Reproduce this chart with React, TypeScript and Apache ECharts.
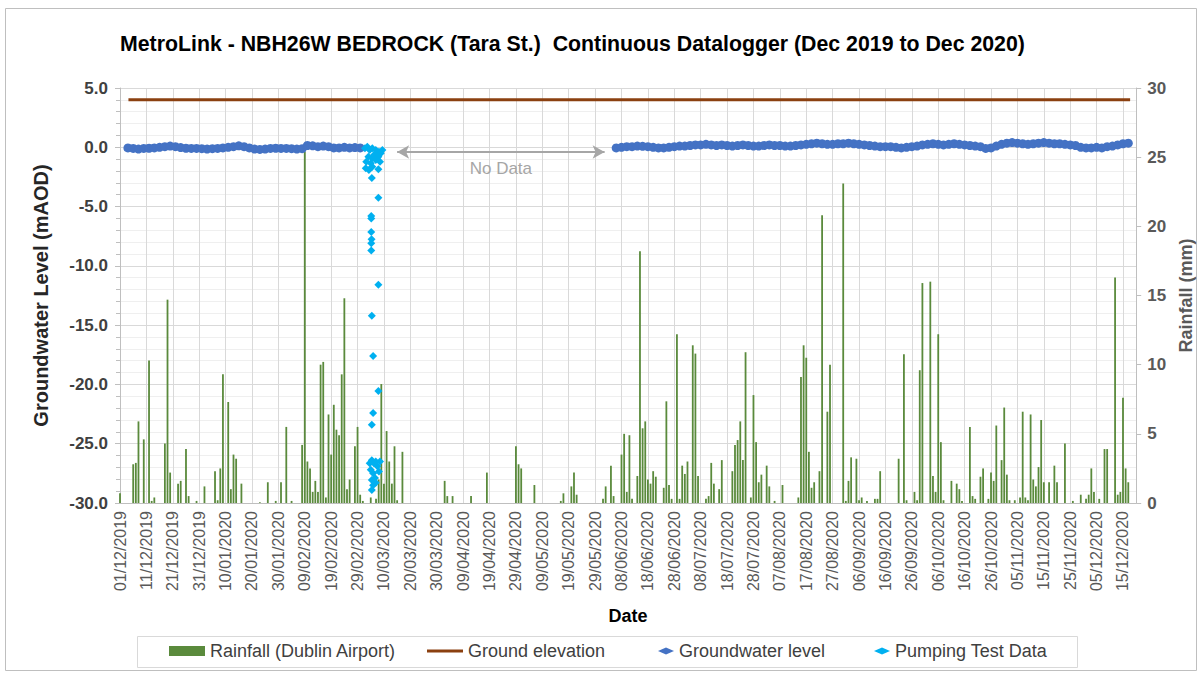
import React, { useEffect, useRef } from 'react';
import * as echarts from 'echarts';

// Day 0 = 01/12/2019; x values are day offsets from this date
const START_UTC = Date.UTC(2019, 11, 1);
const X_MIN = 0;
const X_MAX = 385;
const X_INTERVAL = 10;

// Rainfall (Dublin Airport), mm: [dayOffset, mm]
const rainfall: [number, number][] = [
  [0, 0.7], [5, 2.8], [6, 2.9], [7, 5.9], [9, 4.6], [11, 10.3], [12, 0.15], [13, 0.4], [17, 4.3], [18, 14.7],
  [19, 2.2], [22, 1.4], [23, 1.6], [25, 3.9], [26, 0.5], [29, 0.15], [32, 1.2], [36, 2.3], [37, 0.2], [38, 2.5],
  [39, 9.3], [41, 7.3], [42, 1.0], [43, 3.5], [44, 3.2], [46, 1.4], [53, 0.05], [56, 1.5], [59, 0.15], [61, 1.5],
  [63, 5.5], [65, 0.15], [69, 4.2], [70, 25.4], [71, 3.0], [72, 2.5], [73, 0.8], [74, 1.6], [75, 0.8], [76, 10.0],
  [77, 10.2], [78, 0.4], [79, 6.4], [80, 3.5], [81, 7.1], [82, 5.3], [83, 4.9], [84, 9.3], [85, 14.8], [86, 1.0],
  [87, 1.7], [89, 4.1], [90, 5.5], [91, 0.6], [92, 0.15],
  [95, 0.4], [97, 0.3], [98, 1.7], [99, 8.6], [100, 1.4], [101, 5.2], [102, 3.0], [103, 1.4], [104, 4.1], [105, 0.2],
  [107, 3.7], [123, 1.6], [124, 0.5], [126, 0.5], [133, 0.5], [139, 2.2], [150, 4.1], [151, 2.8], [152, 2.5], [157, 1.3],
  [167, 0.15], [168, 0.7], [171, 1.2], [172, 2.2], [173, 0.6], [183, 0.3], [184, 1.2], [186, 2.7], [187, 0.5],
  [190, 3.5], [191, 5.0], [192, 0.8], [193, 4.9], [194, 0.3], [196, 1.95], [197, 18.2], [198, 5.4], [199, 5.9], [200, 1.7],
  [201, 1.4], [202, 2.3], [203, 1.9], [206, 1.1], [207, 7.35], [208, 1.3], [209, 0.3], [211, 12.2], [212, 0.3], [213, 2.7],
  [214, 2.1], [215, 3.0], [217, 11.4], [218, 10.8], [219, 1.95], [222, 0.3], [223, 0.5], [224, 2.9], [225, 1.4], [227, 1.0],
  [228, 3.1], [232, 2.3], [233, 4.2], [234, 4.55], [235, 5.9], [236, 3.1], [237, 10.9], [239, 0.4], [240, 7.8], [241, 4.4],
  [242, 1.5], [243, 2.05], [245, 2.7], [246, 1.2], [248, 0.15], [251, 1.3], [257, 0.4], [258, 9.1], [259, 11.4], [260, 10.5],
  [261, 3.7], [262, 1.1], [263, 1.5], [265, 2.3], [266, 20.8], [268, 6.6], [269, 10.0], [274, 23.1], [275, 0.15], [276, 1.6],
  [277, 3.3], [279, 3.2], [280, 0.2], [281, 0.4], [283, 0.15], [286, 0.3],
  [287, 0.3], [288, 2.3], [295, 3.2], [297, 10.75], [298, 0.2], [301, 0.8], [302, 0.2], [303, 9.6], [304, 15.9], [307, 16.0],
  [308, 1.95], [309, 0.8], [310, 12.2], [311, 4.4], [312, 0.2], [315, 1.6], [317, 1.4], [318, 1.0], [319, 0.15], [322, 5.5],
  [323, 0.5], [324, 0.3], [326, 1.9], [327, 2.5], [329, 0.3], [330, 2.2], [331, 1.6], [332, 5.6], [334, 3.1], [335, 6.9],
  [336, 2.05], [337, 0.2], [339, 0.2], [341, 0.4], [342, 6.6], [343, 0.4], [344, 0.2], [345, 6.4], [346, 1.7], [347, 1.2],
  [348, 2.6], [349, 6.0], [350, 1.5], [352, 1.5], [354, 2.7], [355, 1.5], [358, 4.3], [361, 0.15], [364, 0.6], [366, 0.3],
  [367, 0.6], [368, 2.5], [369, 0.8], [371, 0.3], [373, 3.9], [374, 3.9], [377, 16.3], [378, 0.6], [379, 0.8], [380, 7.6],
  [381, 2.5], [382, 1.5],
];

// Ground elevation (mAOD)
const groundElevation = 4.0;
const groundStartDay = 3.2;
const groundEndDay = 382.7;

// Groundwater level (mAOD), sampled every 2 days
const gwStep = 2;
const gw1StartDay = 3;
const gw1 = [
  -0.05, -0.1, -0.15, -0.1, -0.08, -0.05, 0.0, 0.05, 0.1, 0.05,
  -0.02, -0.08, -0.1, -0.1, -0.12, -0.15, -0.12, -0.1, -0.05, 0.0,
  0.05, 0.12, 0.05, -0.05, -0.15, -0.18, -0.15, -0.1, -0.08, -0.1,
  -0.1, -0.12, -0.15, -0.12, 0.15, 0.12, 0.05, 0.1, 0.05, -0.05,
  -0.05, 0.0, -0.05, -0.02, -0.05,
];
const gw2StartDay = 188;
const gw2 = [
  -0.05, 0.0, 0.05, 0.05, 0.1, 0.08, 0.05,
  0.0, -0.05, -0.05, 0.0, 0.05, 0.1, 0.1, 0.15, 0.2, 0.2,
  0.25, 0.2, 0.15, 0.2, 0.15, 0.1, 0.15, 0.2, 0.15, 0.1,
  0.1, 0.15, 0.2, 0.15, 0.15, 0.1, 0.1, 0.15, 0.2, 0.25,
  0.3, 0.35, 0.3, 0.25, 0.25, 0.3, 0.3, 0.35, 0.3, 0.25,
  0.2, 0.15, 0.1, 0.05, 0.05, 0.05, 0.0, -0.05, 0.0, 0.05,
  0.1, 0.2, 0.25, 0.3, 0.25, 0.2, 0.25, 0.3, 0.25, 0.2,
  0.15, 0.1, 0.05, -0.1, -0.05, 0.1, 0.25, 0.35, 0.4, 0.35,
  0.3, 0.25, 0.3, 0.35, 0.4, 0.35, 0.3, 0.3, 0.25, 0.2,
  0.15, 0.0, -0.05, -0.05, 0.0, -0.05, 0.05, 0.1, 0.2, 0.3, 0.35,
];

// Pumping test data: [dayOffset, mAOD]
const pumpingTest: [number, number][] = [
  [92.8, -0.09], [93.7, 0.05], [94.6, -0.23], [95.6, -0.09], [96.9, -0.23], [98.1, -0.37], [98.8, -0.51], [97.9, -0.79],
  [94.1, -0.79], [95.6, -0.93], [96.9, -1.07], [93.3, -1.22], [95.0, -1.35], [93.1, -1.77], [94.3, -1.92], [95.6, -1.64],
  [97.9, -1.86], [95.4, -2.6], [98.5, -1.22], [97.5, -0.51], [96.2, -0.65], [99.4, -0.23],
  [97.9, -4.25], [95.2, -5.8], [95.2, -6.0], [95.2, -7.15], [95.3, -7.76], [95.2, -8.1], [95.2, -8.7],
  [97.9, -11.6], [95.4, -14.2], [95.9, -17.6], [97.9, -20.55], [95.9, -22.4], [95.4, -23.4],
  [95.4, -26.4], [96.2, -26.65], [96.9, -26.5], [95.0, -27.2], [95.9, -27.5], [97.5, -26.9], [98.1, -27.35],
  [95.4, -28.06], [96.6, -27.9], [95.9, -28.5], [95.4, -28.9], [94.6, -26.65], [96.9, -28.3], [98.5, -26.5],
];

// "No Data" annotation span (day offsets) and level
const noDataStart = 105;
const noDataEnd = 183.6;
const noDataLevel = -0.4;

const FONT = '"Liberation Sans", Arial, sans-serif';

function fmtDate(v: number): string {
  const d = new Date(START_UTC + Math.round(v) * 86400000);
  const dd = String(d.getUTCDate()).padStart(2, '0');
  const mm = String(d.getUTCMonth() + 1).padStart(2, '0');
  return `${dd}/${mm}/${d.getUTCFullYear()}`;
}

export default function App() {
  const ref = useRef<HTMLDivElement>(null);
  useEffect(() => {
    const chart = echarts.init(ref.current!, null, { renderer: 'svg' });
    const gwData: any[] = [];
    gw1.forEach((v, i) => gwData.push([gw1StartDay + i * gwStep, v]));
    gw2.forEach((v, i) => gwData.push([gw2StartDay + i * gwStep, v]));

    const legendCommon = {
      top: 642,
      padding: 0,
      selectedMode: false,
      textStyle: { fontSize: 18, color: '#404040', fontFamily: FONT, lineHeight: 18 },
    };

    const option: any = {
      animation: false,
      textStyle: { fontFamily: FONT },
      title: {
        text: 'MetroLink - NBH26W BEDROCK (Tara St.)  Continuous Datalogger (Dec 2019 to Dec 2020)',
        left: 120,
        top: 33,
        padding: 0,
        textStyle: { fontSize: 21.3, fontWeight: 'bold', color: '#000', fontFamily: FONT },
      },
      legend: [
        { ...legendCommon, left: 169, itemWidth: 36, itemHeight: 10, data: [{ name: 'Rainfall (Dublin Airport)', icon: 'rect' }] },
        { ...legendCommon, left: 427, itemWidth: 36, itemHeight: 10, data: [{ name: 'Ground elevation', icon: 'path://M0,0H36V3H0Z' }] },
        { ...legendCommon, left: 658, itemWidth: 16, itemHeight: 7, data: [{ name: 'Groundwater level', icon: 'diamond' }] },
        { ...legendCommon, left: 874, itemWidth: 16, itemHeight: 7, data: [{ name: 'Pumping Test Data', icon: 'diamond' }] },
      ],
      graphic: [
        { type: 'rect', shape: { x: 5.5, y: 8.5, width: 1191, height: 662 }, style: { fill: 'none', stroke: '#BFBFBF', lineWidth: 1 }, silent: true },
        { type: 'rect', shape: { x: 137.5, y: 636.5, width: 940, height: 31 }, style: { fill: 'none', stroke: '#D9D9D9', lineWidth: 1 }, silent: true },
      ],
      grid: { left: 120, right: 62, top: 88, bottom: 172, containLabel: false },
      xAxis: {
        type: 'value',
        min: X_MIN,
        max: X_MAX,
        interval: X_INTERVAL,
        name: 'Date',
        nameLocation: 'middle',
        nameGap: 104,
        nameTextStyle: { fontSize: 18, fontWeight: 'bold', color: '#000', fontFamily: FONT },
        axisLine: { show: true, onZero: false, lineStyle: { color: '#BFBFBF' } },
        axisTick: { show: false },
        axisLabel: { rotate: 90, margin: 8, fontSize: 16, color: '#595959', formatter: fmtDate, showMaxLabel: false, showMinLabel: true },
        splitLine: { show: true, lineStyle: { color: '#D9D9D9' } },
      },
      yAxis: [
        {
          type: 'value',
          position: 'left',
          min: -30,
          max: 5,
          interval: 5,
          name: 'Groundwater Level (mAOD)',
          nameLocation: 'middle',
          nameRotate: 90,
          nameGap: 69,
          nameTextStyle: { fontSize: 20, fontWeight: 'bold', color: '#262626', fontFamily: FONT },
          axisLine: { show: true, onZero: false, lineStyle: { color: '#BFBFBF' } },
          axisTick: { show: true, length: 5, lineStyle: { color: '#BFBFBF' } },
          minorTick: { show: true, splitNumber: 5, length: 4, lineStyle: { color: '#BFBFBF' } },
          axisLabel: { formatter: (v: number) => v.toFixed(1), fontSize: 17, fontWeight: 'bold', color: '#404040', margin: 12 },
          splitLine: { show: true, lineStyle: { color: '#D9D9D9' } },
          minorSplitLine: { show: true, lineStyle: { color: '#EFEFEF' } },
        },
        {
          type: 'value',
          position: 'right',
          min: 0,
          max: 30,
          interval: 5,
          name: 'Rainfall (mm)',
          nameLocation: 'middle',
          nameRotate: 90,
          nameGap: 40,
          nameTextStyle: { fontSize: 18, fontWeight: 'bold', color: '#595959', fontFamily: FONT },
          axisLine: { show: true, onZero: false, lineStyle: { color: '#BFBFBF' } },
          axisTick: { show: true, length: 5, lineStyle: { color: '#BFBFBF' } },
          axisLabel: { fontSize: 17, fontWeight: 'bold', color: '#595959', margin: 11 },
          splitLine: { show: false },
        },
      ],
      series: [
        {
          name: 'Rainfall (Dublin Airport)',
          type: 'bar',
          xAxisIndex: 0,
          yAxisIndex: 1,
          data: rainfall,
          barWidth: 1.8,
          itemStyle: { color: '#5A8A3C' },
          z: 1,
        },
        {
          name: 'Ground elevation',
          type: 'line',
          yAxisIndex: 0,
          data: [[groundStartDay, groundElevation], [groundEndDay, groundElevation]],
          color: '#8B4010',
          lineStyle: { width: 3, color: '#8B4010' },
          showSymbol: false,
          symbol: 'none',
          z: 3,
        },
        {
          name: 'Groundwater level',
          type: 'scatter',
          yAxisIndex: 0,
          data: gwData,
          symbol: 'circle',
          symbolSize: 9,
          itemStyle: { color: '#4472C4', opacity: 1 },
          z: 4,
          markLine: {
            silent: true,
            symbol: ['arrow', 'arrow'],
            symbolSize: [10, 12],
            lineStyle: { color: '#A6A6A6', type: 'solid', width: 2 },
            label: {
              show: true,
              formatter: 'No Data',
              position: 'insideMiddleBottom',
              distance: 8,
              color: '#A6A6A6',
              fontSize: 17,
              fontFamily: FONT,
            },
            data: [[{ coord: [noDataStart, noDataLevel] }, { coord: [noDataEnd, noDataLevel] }]],
          },
        },
        {
          name: 'Pumping Test Data',
          type: 'scatter',
          yAxisIndex: 0,
          data: pumpingTest,
          symbol: 'diamond',
          symbolSize: 8,
          itemStyle: { color: '#00B0F0', opacity: 1 },
          z: 5,
        },
      ],
    };
    chart.setOption(option);
    return () => chart.dispose();
  }, []);
  return <div ref={ref} style={{ position: 'absolute', left: 0, top: 0, width: 1203, height: 675 }} />;
}
